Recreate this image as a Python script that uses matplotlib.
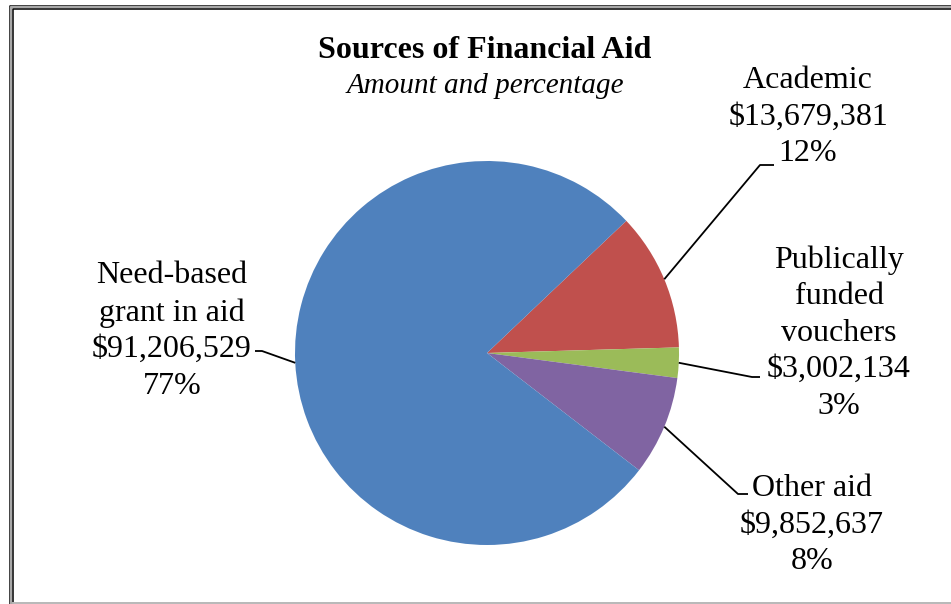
import matplotlib
matplotlib.use("Agg")
import matplotlib.pyplot as plt
from matplotlib.lines import Line2D
import numpy as np

# data
labels = ["Academic", "Publically\nfunded\nvouchers", "Other aid", "Need-based\ngrant in aid"]
amounts = [13679381, 3002134, 9852637, 91206529]
colors = ["#C0504D", "#9BBB59", "#8064A2", "#4F81BD"]

# label block centres (pixels, y from top) and elbow points for the leader lines
label_pos = [(808, 117), (839, 333), (812, 525), (172, 331)]
elbow = [(760, 165, 774), (752, 377, 760), (738, 494, 748), (262, 351, 255)]

W, H = 951, 604
fig = plt.figure(figsize=(W / 100, H / 100), dpi=100)
ax = fig.add_axes([0, 0, 1, 1])

plt.rcParams["font.family"] = ["Liberation Serif", "DejaVu Serif"]

cx, cy, r = 487, H - 353, 192
wedges, _ = ax.pie(amounts, colors=colors, startangle=43.5, counterclock=False,
                   center=(cx, cy), radius=r, frame=True,
                   wedgeprops=dict(linewidth=0))
ax.set_xlim(0, W)
ax.set_ylim(0, H)
ax.set_aspect("equal")
ax.axis("off")

total = sum(amounts)
for w, lab, amt, (lx, ly), (ex, ey, hx) in zip(wedges, labels, amounts, label_pos, elbow):
    mid = np.deg2rad((w.theta1 + w.theta2) / 2)
    sx = cx + r * np.cos(mid)
    sy = cy + r * np.sin(mid)
    ax.plot([sx, ex, hx], [sy, H - ey, H - ey], color="black", lw=1.3, solid_capstyle="butt")
    txt = "%s\n$%s\n%d%%" % (lab, format(amt, ","), round(amt / total * 100))
    ax.text(lx, H - ly, txt, ha="center", va="center", fontsize=23, linespacing=1.34)

fig.text(485 / W, 1 - 50 / H, "Sources of Financial Aid", ha="center", va="center",
         fontsize=23, fontweight="bold")
fig.text(485 / W, 1 - 86 / H, "Amount and percentage", ha="center", va="center",
         fontsize=21, style="italic")

# chart frame (double line on top/left, grey line along the bottom)
def fl(xs, ys, c, lw):
    fig.add_artist(Line2D([x / W for x in xs], [1 - y / H for y in ys],
                          color=c, lw=lw, transform=fig.transFigure))

fl([9.5, 9.5, W], [604, 5.5, 5.5], "black", 1.1)
fl([11, 11, W], [604, 7, 7], "#a8a8a8", 1.6)
fl([12.5, 12.5, W], [604, 8.5, 8.5], "black", 1.1)
fl([12.5, W], [602.5, 602.5], "#b8b8b8", 1.4)

fig.savefig("out.png", dpi=100)
